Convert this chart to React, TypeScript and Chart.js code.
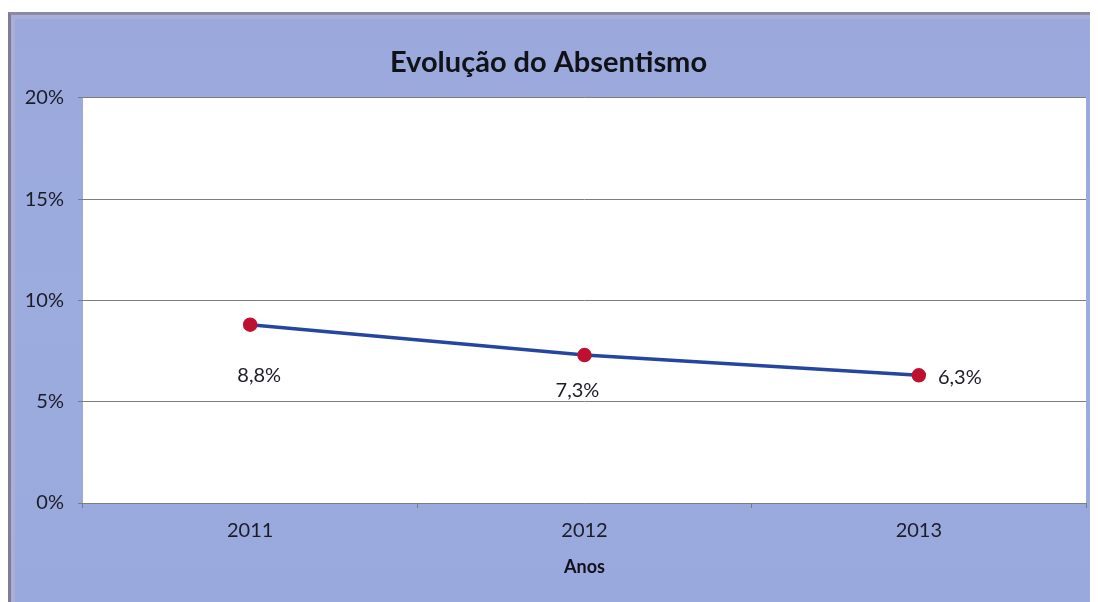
import React, { useEffect, useRef } from "react";
import { Chart, registerables } from "chart.js";

Chart.register(...registerables);

const categories = ["2011", "2012", "2013"];
const absentismo = [8.8, 7.3, 6.3];
const yTicks = [0, 5, 10, 15, 20];
const titleText = "Evolução do Absentismo";
const xAxisTitle = "Anos";
const labelTexts = ["8,8%", "7,3%", "6,3%"];
const labelOffsets = [
  { dx: 9, dy: 51 },
  { dx: -7, dy: 35 },
  { dx: 41, dy: 2 },
];

const FONT = "Lato, 'Open Sans', sans-serif";

export default function App() {
  const ref = useRef<HTMLCanvasElement | null>(null);

  useEffect(() => {
    if (!ref.current) return;
    const plotBg = {
      id: "plotBg",
      beforeDraw(chart: any) {
        const { ctx, chartArea } = chart;
        ctx.save();
        ctx.fillStyle = "#ffffff";
        ctx.fillRect(chartArea.left, chartArea.top, chartArea.right - chartArea.left, chartArea.bottom - chartArea.top);
        ctx.restore();
      },
    };
    const dataLabels = {
      id: "dataLabels",
      afterDatasetsDraw(chart: any) {
        const { ctx } = chart;
        const meta = chart.getDatasetMeta(0);
        ctx.save();
        ctx.font = `20px ${FONT}`;
        ctx.fillStyle = "#1c1c26";
        ctx.textAlign = "center";
        ctx.textBaseline = "middle";
        meta.data.forEach((pt: any, i: number) => {
          const o = labelOffsets[i];
          ctx.fillText(labelTexts[i], pt.x + o.dx, pt.y + o.dy);
        });
        ctx.restore();
      },
    };
    const chart = new Chart(ref.current, {
      type: "line",
      data: {
        labels: categories,
        datasets: [
          {
            data: absentismo,
            borderColor: "#24469e",
            borderWidth: 3.5,
            pointBackgroundColor: "#be1030",
            pointBorderColor: "#be1030",
            pointRadius: 5.5,
            tension: 0,
          },
        ],
      },
      options: {
        animation: false,
        responsive: false,
        maintainAspectRatio: false,
        layout: { padding: { top: 0, right: 12, bottom: 0, left: 0 } },
        plugins: {
          legend: { display: false },
          tooltip: { enabled: false },
          title: {
            display: true,
            text: titleText,
            color: "#111118",
            font: { family: FONT, size: 29, weight: "bold" },
            padding: { top: 30, bottom: 18 },
          },
        },
        scales: {
          x: {
            offset: true,
            grid: { display: true, drawOnChartArea: false, drawTicks: true, tickLength: 5, offset: true, color: "#7a7a7a" },
            border: { display: false },
            ticks: { color: "#1c1c26", font: { family: FONT, size: 20 }, padding: 11 },
            title: {
              display: true,
              text: xAxisTitle,
              color: "#111118",
              font: { family: FONT, size: 18, weight: "bold" },
              padding: { top: 0, bottom: 24 },
            },
            afterFit(scale: any) {
              scale.height = 99;
            },
          },
          y: {
            min: 0,
            max: 20,
            afterBuildTicks(scale: any) {
              scale.ticks = yTicks.map((v) => ({ value: v }));
            },
            grid: { color: "#7d7d7d", lineWidth: 1, tickLength: 5 },
            border: { display: false },
            ticks: {
              color: "#1c1c26",
              font: { family: FONT, size: 20 },
              padding: 14,
              callback: (v: any) => `${v}%`,
            },
            afterFit(scale: any) {
              scale.width = 72;
            },
          },
        },
      },
      plugins: [plotBg, dataLabels],
    });
    return () => chart.destroy();
  }, []);

  return (
    <div
      style={{
        marginTop: 4,
        width: 1090,
        height: 590,
        boxSizing: "border-box",
        background: "linear-gradient(180deg, #9aa8dc 0%, #9dacde 50%, #9aa9dd 100%)",
        borderTop: "3px solid #8c88a6",
        borderLeft: "3px solid #7f7b9b",
        boxShadow: "inset 4px 4px 0 #a9afd6",
        position: "relative",
        overflow: "hidden",
      }}
    >
      <canvas ref={ref} width={1087} height={587} style={{ display: "block" }} />
    </div>
  );
}
